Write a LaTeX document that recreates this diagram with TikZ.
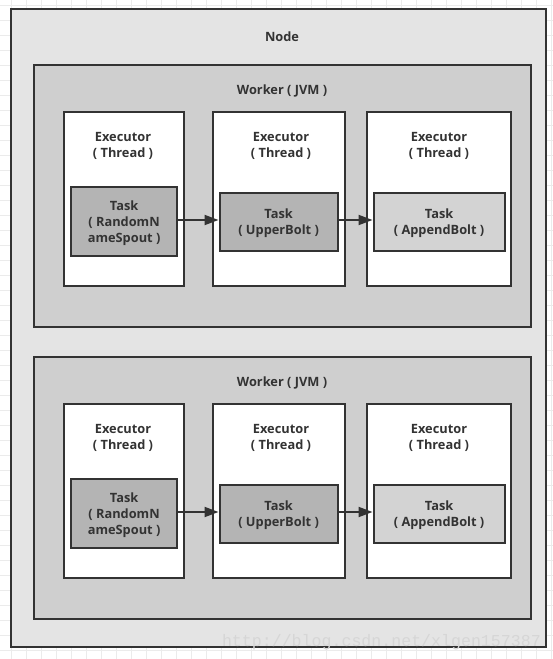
\documentclass[tikz,border=0pt]{standalone}
\usepackage{fontspec}
\setmainfont{Open Sans}
\newfontfamily\wmfont{Liberation Mono}
\usetikzlibrary{arrows.meta}
\definecolor{gridc}{HTML}{EBEBEB}
\definecolor{nodefill}{HTML}{E4E4E4}
\definecolor{workerfill}{HTML}{CFCFCF}
\definecolor{taskdark}{HTML}{B4B4B4}
\definecolor{tasklight}{HTML}{D3D3D3}
\definecolor{edge}{HTML}{333333}
\definecolor{wmc}{HTML}{D6D6D6}
\tikzset{
  box/.style={draw=edge, line width=2.2pt, inner sep=0pt, anchor=north west},
  nodebox/.style={box, fill=nodefill},
  workerbox/.style={box, fill=workerfill},
  execbox/.style={box, fill=white},
  taskbox/.style={box, fill=taskdark},
  tasklbox/.style={taskbox, fill=tasklight},
  lbl/.style={align=center, font=\fontsize{12.8}{16}\selectfont\bfseries, text=edge, inner sep=0pt, yshift=-1.7pt},
  conn/.style={draw=edge, line width=2pt, -{Triangle[length=14pt,width=10pt]}},
}
\begin{document}
\begin{tikzpicture}[x=1pt,y=-1pt]
\useasboundingbox (0,0) rectangle (553,659);
\fill[white] (0,0) rectangle (553,659);
\foreach \gx in {0,...,36} {\draw[gridc, line width=1pt] (11.7+15*\gx,0) -- (11.7+15*\gx,659);}
\foreach \gy in {0,...,43} {\draw[gridc, line width=1pt] (0,5+15*\gy) -- (553,5+15*\gy);}
% outer node
\node[nodebox, minimum width=535pt, minimum height=638pt] (node) at (9.5,8) {};
\node[lbl] (nodelbl) at (282,35) {Node};
\foreach \w/\dy in {1/0,2/292} {
  \node[workerbox, minimum width=496.5pt, minimum height=262.5pt] (w\w) at (33,63.5+\dy) {};
  \node[lbl] (w\w lbl) at (282,89+\dy) {Worker ( JVM )};
  \node[execbox, minimum width=120pt, minimum height=174.5pt] (e\w a) at (62.5,110.5+\dy) {};
  \node[execbox, minimum width=132pt, minimum height=174.5pt] (e\w b) at (211.5,110.5+\dy) {};
  \node[execbox, minimum width=144pt, minimum height=174.5pt] (e\w c) at (365.5,110.5+\dy) {};
  \node[lbl] (e\w alb) at (123,144+\dy) {Executor\\( Thread )};
  \node[lbl] (e\w blb) at (281,144+\dy) {Executor\\( Thread )};
  \node[lbl] (e\w clb) at (439,144+\dy) {Executor\\( Thread )};
  \node[taskbox, minimum width=106pt, minimum height=69.5pt] (t\w a) at (70,185.5+\dy) {};
  \node[lbl] at (t\w a.center) {Task\\( RandomN\\ameSpout )};
  \node[taskbox, minimum width=118pt, minimum height=58.5pt] (t\w b) at (218.5,191.5+\dy) {};
  \node[lbl] at (t\w b.center) {Task\\( UpperBolt )};
  \node[tasklbox, minimum width=131pt, minimum height=58.5pt] (t\w c) at (372.5,191.5+\dy) {};
  \node[lbl] at (t\w c.center) {Task\\( AppendBolt )};
  \draw[conn] (t\w a.east |- 0,220+\dy) -- (t\w b.west |- 0,220+\dy);
  \draw[conn] (t\w b.east |- 0,220+\dy) -- (t\w c.west |- 0,220+\dy);
}
\node[text=wmc, font=\wmfont\fontsize{16.6}{18}\selectfont, inner sep=0pt, anchor=base east] (wm) at (541,646) {http://blog.csdn.net/xlgen157387};
\end{tikzpicture}
\end{document}
